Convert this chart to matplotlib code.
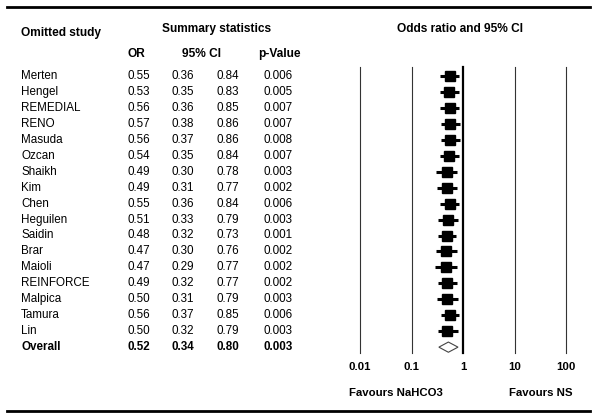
import matplotlib
matplotlib.use("Agg")
import matplotlib.pyplot as plt
from matplotlib.transforms import blended_transform_factory
from matplotlib.patches import Polygon
from matplotlib.lines import Line2D
import numpy as np

studies = ["Merten", "Hengel", "REMEDIAL", "RENO", "Masuda", "Ozcan", "Shaikh", "Kim",
           "Chen", "Heguilen", "Saidin", "Brar", "Maioli", "REINFORCE", "Malpica",
           "Tamura", "Lin"]
odds = [0.55, 0.53, 0.56, 0.57, 0.56, 0.54, 0.49, 0.49, 0.55, 0.51, 0.48, 0.47, 0.47,
        0.49, 0.50, 0.56, 0.50]
ci_low = [0.36, 0.35, 0.36, 0.38, 0.37, 0.35, 0.30, 0.31, 0.36, 0.33, 0.32, 0.30, 0.29,
          0.32, 0.31, 0.37, 0.32]
ci_high = [0.84, 0.83, 0.85, 0.86, 0.86, 0.84, 0.78, 0.77, 0.84, 0.79, 0.73, 0.76, 0.77,
           0.77, 0.79, 0.85, 0.79]
p_values = ["0.006", "0.005", "0.007", "0.007", "0.008", "0.007", "0.003", "0.002",
            "0.006", "0.003", "0.001", "0.002", "0.002", "0.002", "0.003", "0.006", "0.003"]
overall = {"label": "Overall", "or": 0.52, "low": 0.34, "high": 0.80, "p": "0.003"}
tick_values = [0.01, 0.1, 1, 10, 100]
tick_labels = ["0.01", "0.1", "1", "10", "100"]

W, H = 600, 418
plt.rcParams['font.family'] = ['Liberation Sans', 'DejaVu Sans']
fig = plt.figure(figsize=(W / 100, H / 100), dpi=100)

def fx(px):
    return px / W

def fy(py):
    return 1 - py / H

# forest axes: x from 360px (0.01) to 566px (100); y from 67px to 353px
row0, step = 76.0, 15.95
ytop = (67 - row0) / step
ybot = (353 - row0) / step
ax = fig.add_axes([fx(360), fy(353), fx(566) - fx(360), (353 - 67) / H])
ax.set_xscale("log")
ax.set_xlim(0.01, 100)
ax.set_ylim(ybot, ytop)
ax.axis("off")

for v in tick_values:
    if v == 1:
        ax.axvline(v, color="black", lw=1.6, clip_on=False)
    else:
        ax.axvline(v, color="#333333", lw=0.8, clip_on=False)

n = len(studies)
for i in range(n):
    ax.plot([ci_low[i], ci_high[i]], [i, i], color="black", lw=2.2, solid_capstyle="butt")
    ax.plot(odds[i], i, marker="s", ms=6.7, color="black", mec="black")

yo = n
diamond = Polygon([[overall["low"], yo], [overall["or"], yo - 0.32],
                   [overall["high"], yo], [overall["or"], yo + 0.32]],
                  closed=True, facecolor="white", edgecolor="#444444", lw=0.8)
ax.add_patch(diamond)

# table text
tr = blended_transform_factory(fig.transFigure, ax.transData)
fs = 8.4
for i in range(n):
    ax.text(fx(21), i, studies[i], transform=tr, ha="left", va="center", fontsize=fs)
    ax.text(fx(139), i, f"{odds[i]:.2f}", transform=tr, ha="center", va="center", fontsize=fs)
    ax.text(fx(183), i, f"{ci_low[i]:.2f}", transform=tr, ha="center", va="center", fontsize=fs)
    ax.text(fx(228), i, f"{ci_high[i]:.2f}", transform=tr, ha="center", va="center", fontsize=fs)
    ax.text(fx(278), i, p_values[i], transform=tr, ha="center", va="center", fontsize=fs)

ax.text(fx(21), yo, overall["label"], transform=tr, ha="left", va="center", fontsize=fs, weight="bold")
ax.text(fx(139), yo, f"{overall['or']:.2f}", transform=tr, ha="center", va="center", fontsize=fs, weight="bold")
ax.text(fx(183), yo, f"{overall['low']:.2f}", transform=tr, ha="center", va="center", fontsize=fs, weight="bold")
ax.text(fx(228), yo, f"{overall['high']:.2f}", transform=tr, ha="center", va="center", fontsize=fs, weight="bold")
ax.text(fx(278), yo, overall["p"], transform=tr, ha="center", va="center", fontsize=fs, weight="bold")

# headers
hfs = 8.6
fig.text(fx(21), fy(33), "Omitted study", ha="left", va="center", fontsize=hfs, weight="bold")
fig.text(fx(217), fy(29), "Summary statistics", ha="center", va="center", fontsize=hfs, weight="bold")
fig.text(fx(460), fy(29), "Odds ratio and 95% CI", ha="center", va="center", fontsize=hfs, weight="bold")
fig.text(fx(136), fy(54), "OR", ha="center", va="center", fontsize=hfs, weight="bold")
fig.text(fx(202), fy(54), "95% CI", ha="center", va="center", fontsize=hfs, weight="bold")
fig.text(fx(279), fy(54), "p-Value", ha="center", va="center", fontsize=hfs, weight="bold")

# tick labels
trx = blended_transform_factory(ax.transData, fig.transFigure)
for v, lab in zip(tick_values, tick_labels):
    ax.text(v, fy(367), lab, transform=trx, ha="center", va="center", fontsize=8.2, weight="bold")

fig.text(fx(396), fy(393), "Favours NaHCO3", ha="center", va="center", fontsize=8.2, weight="bold")
fig.text(fx(541), fy(393), "Favours NS", ha="center", va="center", fontsize=8.2, weight="bold")

# top and bottom rules
fig.add_artist(Line2D([fx(7), fx(590)], [fy(7), fy(7)], color="black", lw=2.0, transform=fig.transFigure))
fig.add_artist(Line2D([fx(7), fx(590)], [fy(411), fy(411)], color="black", lw=2.0, transform=fig.transFigure))

fig.savefig("out.png", dpi=100, facecolor="white")
